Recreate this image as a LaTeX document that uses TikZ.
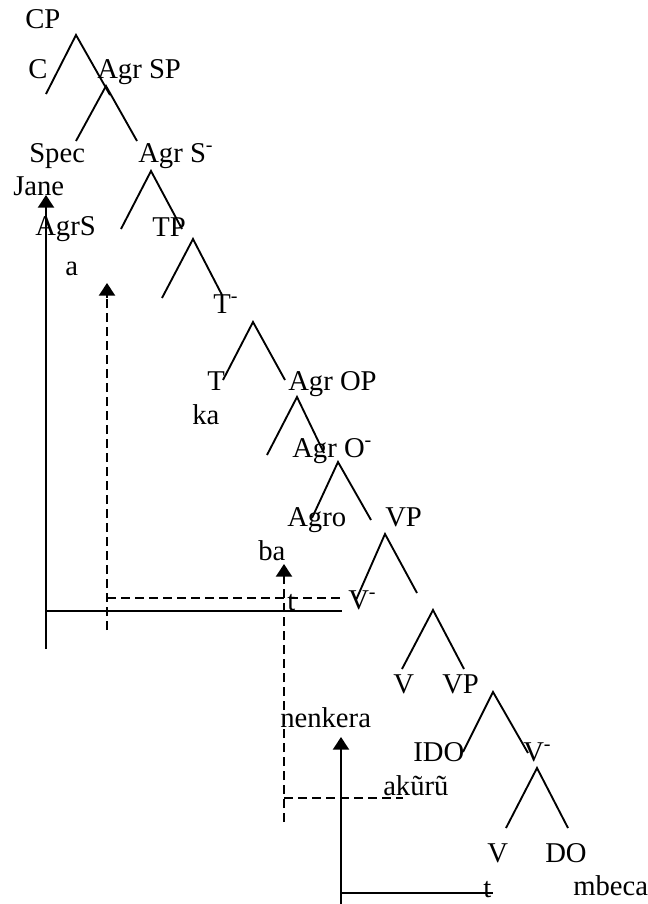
\documentclass[tikz,border=0pt]{standalone}
\usepackage{fontspec}
\setmainfont{Liberation Serif}
\usetikzlibrary{arrows.meta}
\begin{document}
\begin{tikzpicture}[x=0.75pt,y=-0.75pt,
  lbl/.style={anchor=base west,inner sep=0pt,font=\fontsize{21.5}{25}\selectfont},
  branch/.style={line width=1.4pt},
  mv/.style={line width=1.8pt},
  mvd/.style={line width=1.5pt,dash pattern=on 6.5pt off 4pt},
  tip/.style={-{Triangle[length=9.5pt,width=12pt]}}
]
\useasboundingbox (0,0) rectangle (648,904);
% labels
\node[lbl] (CP) at (25,28) {CP};
\node[lbl] (C) at (28,78) {C};
\node[lbl] (AgrSP) at (97,78) {Agr SP};
\node[lbl] (Spec) at (29,162) {Spec};
\node[lbl] (AgrSbar) at (138,162) {Agr S\textsuperscript{-}};
\node[lbl] (Jane) at (13,195) {Jane};
\node[lbl] (AgrS) at (35,235) {AgrS};
\node[lbl] (TP) at (152,236) {TP};
\node[lbl] (a) at (65,275) {a};
\node[lbl] (Tbar) at (213,313) {T\textsuperscript{-}};
\node[lbl] (T) at (207,390) {T};
\node[lbl] (ka) at (192,424) {ka};
\node[lbl] (AgrOP) at (288,390) {Agr OP};
\node[lbl] (AgrObar) at (292,457) {Agr O\textsuperscript{-}};
\node[lbl] (Agro) at (287,526) {Agro};
\node[lbl] (VPa) at (385,526) {VP};
\node[lbl] (ba) at (258,560) {ba};
\node[lbl] (ta) at (287,610) {t};
\node[lbl] (Vbara) at (348,609) {V\textsuperscript{-}};
\node[lbl] (Va) at (393,693) {V};
\node[lbl] (VPb) at (442,693) {VP};
\node[lbl] (nenkera) at (280,727) {nenkera};
\node[lbl] (IDO) at (413,761) {IDO};
\node[lbl] (Vbarb) at (523,761) {V\textsuperscript{-}};
\node[lbl] (akuru) at (383,795) {akũrũ};
\node[lbl] (Vb) at (487,862) {V};
\node[lbl] (DO) at (545,862) {DO};
\node[lbl] (tb) at (483,897) {t};
\node[lbl] (mbeca) at (573,895) {mbeca};
% branches: apex, left end, right end
\foreach \n/\ax/\ay/\lx/\ly/\rx/\ry in {
  1/76/35/46/94/110/95,
  2/106/86/76/141/137/141,
  3/151/171/121/229/182/229,
  4/193/239/162/298/222/295,
  5/253/322/223/380/285/380,
  6/297/397/267/455/324/453,
  7/338/462/312/518/371/520,
  8/385/534/356/600/417/593,
  9/433/610/402/669/464/669,
  10/493/692/463/752/528/753,
  11/537/768/506/828/568/828}{
  \coordinate (ap\n) at (\ax,\ay);
  \coordinate (le\n) at (\lx,\ly);
  \coordinate (re\n) at (\rx,\ry);
  \draw[branch] (le\n) -- (ap\n) -- (re\n);
}
% movement lines
\coordinate (s1b) at (46,649); \coordinate (s1t) at (46,195);
\coordinate (s1h0) at (46,611); \coordinate (s1h1) at (342,611);
\draw[mv,tip] (s1b) -- (s1t);
\draw[mv] (s1h0) -- (s1h1);
\coordinate (d1b) at (107,630); \coordinate (d1t) at (107,283);
\coordinate (d1h0) at (107,598); \coordinate (d1h1) at (340,598);
\coordinate (d1m) at (107,298);
\draw[mvd] (d1b) -- (d1m);
\draw[mv,tip] (d1m) -- (d1t);
\draw[mvd] (d1h0) -- (d1h1);
\coordinate (d2b) at (284,822); \coordinate (d2t) at (284,564);
\coordinate (d2h0) at (284,798); \coordinate (d2h1) at (403,798);
\coordinate (d2m) at (284,580);
\draw[mvd] (d2b) -- (d2m);
\draw[mv,tip] (d2m) -- (d2t);
\draw[mvd] (d2h0) -- (d2h1);
\coordinate (s2b) at (341,904); \coordinate (s2t) at (341,737);
\coordinate (s2h0) at (341,893); \coordinate (s2h1) at (493,893);
\draw[mv,tip] (s2b) -- (s2t);
\draw[mv] (s2h0) -- (s2h1);
\end{tikzpicture}
\end{document}
